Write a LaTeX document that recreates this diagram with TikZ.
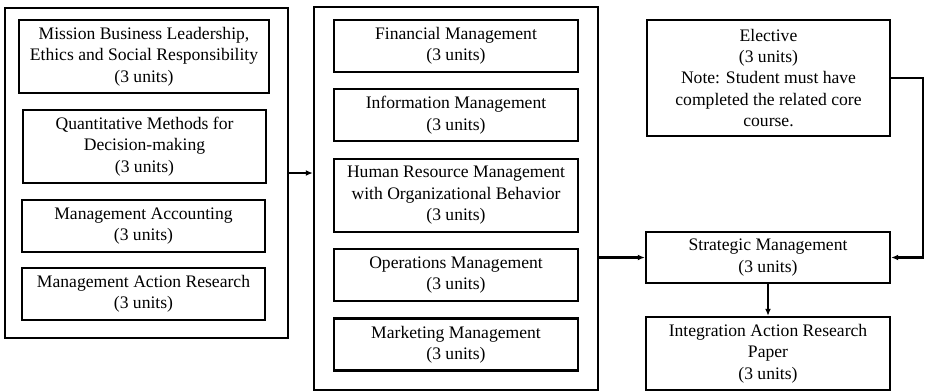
\documentclass[tikz,border=0pt]{standalone}
\usepackage{fontspec}
\setmainfont{Liberation Serif}
\usetikzlibrary{arrows.meta}

\begin{document}
\begin{tikzpicture}[x=1pt,y=-1pt,line width=2.4pt,
    >={Latex[length=7pt,width=6pt]},
    course/.style={draw,inner sep=0pt,align=center,
        font=\fontsize{17.6}{21.4}\selectfont},
    group/.style={draw,inner sep=0pt}]
    \useasboundingbox (0,0) rectangle (925,391);

    % first block of core courses
    \node[group,minimum width=283pt,minimum height=330pt] (core1) at (146.5,173) {};
    \node[course,minimum width=250pt,minimum height=73pt] (mbl) at (144,56.5)
        {Mission Business Leadership,\\Ethics and Social Responsibility\\(3 units)};
    \node[course,minimum width=243pt,minimum height=73pt] (qm) at (144.5,146.5)
        {Quantitative Methods for\\Decision-making\\(3 units)};
    \node[course,minimum width=243pt,minimum height=52pt] (ma) at (143.5,226)
        {Management Accounting\\(3 units)};
    \node[course,minimum width=243pt,minimum height=52pt] (mar) at (143.5,294)
        {Management Action Research\\(3 units)};

    % second block of core courses
    \node[group,minimum width=284pt,minimum height=383pt] (core2) at (456,198.5) {};
    \node[course,minimum width=244pt,minimum height=52pt] (fm) at (456,46)
        {Financial Management\\(3 units)};
    \node[course,minimum width=244pt,minimum height=52pt] (im) at (456,115)
        {Information Management\\(3 units)};
    \node[course,minimum width=244pt,minimum height=73pt] (hrm) at (456,195.5)
        {Human Resource Management\\with Organizational Behavior\\(3 units)};
    \node[course,minimum width=244pt,minimum height=52pt] (om) at (456,275)
        {Operations Management\\(3 units)};
    \node[course,minimum width=244pt,minimum height=52pt] (mm) at (456,344.5)
        {Marketing Management\\(3 units)};

    % elective and capstone
    \node[course,minimum width=243pt,minimum height=116pt] (elec) at (768.5,78)
        {Elective\\(3 units)\\Note: Student must have\\completed the related core\\course.};
    \node[course,minimum width=244pt,minimum height=51pt] (sm) at (768,257.5)
        {Strategic Management\\(3 units)};
    \node[course,minimum width=244pt,minimum height=73pt] (iarp) at (768,353.5)
        {Integration Action Research\\Paper\\(3 units)};
    \coordinate (rail) at (923,0);

    \draw[->] (core1.east) -- (core1.east -| core2.west);
    \draw[->] (core2.east |- sm.west) -- (sm.west);
    \draw[->] (sm) -- (iarp);
    \draw[->] (elec.east) -- (elec.east -| rail) |- (sm.east);
\end{tikzpicture}
\end{document}
